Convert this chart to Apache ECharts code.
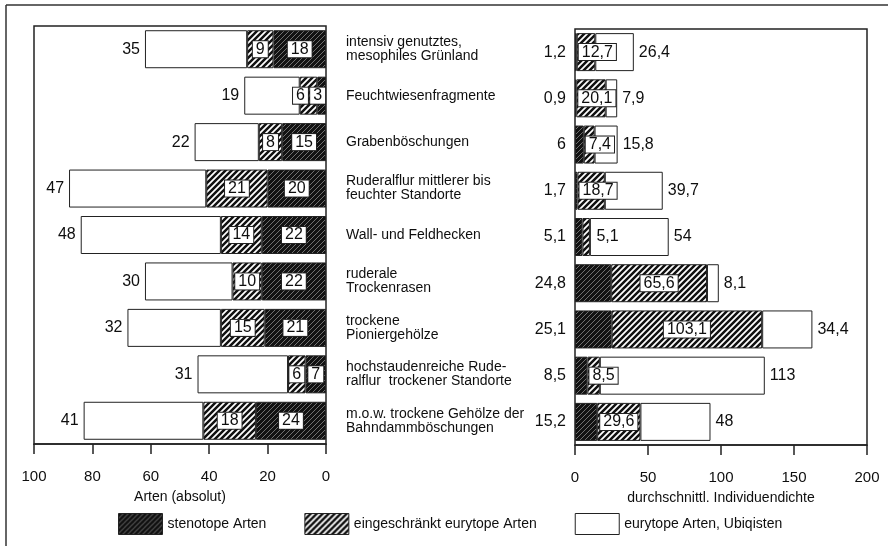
<!DOCTYPE html>
<html>
<head>
<meta charset="utf-8">
<script src="https://cdn.jsdelivr.net/npm/echarts@6/dist/echarts.min.js"></script>
<style>
  html, body { margin: 0; padding: 0; background: #fff; }
  #chart { width: 888px; height: 546px; }
</style>
</head>
<body>
<div id="chart"></div>
<script>
// Habitat types (top to bottom)
const categories = [
  'intensiv genutztes,\nmesophiles Grünland',
  'Feuchtwiesenfragmente',
  'Grabenböschungen',
  'Ruderalflur mittlerer bis\nfeuchter Standorte',
  'Wall- und Feldhecken',
  'ruderale\nTrockenrasen',
  'trockene\nPioniergehölze',
  'hochstaudenreiche Rude-\nralflur  trockener Standorte',
  'm.o.w. trockene Gehölze der\nBahndammböschungen'
];

const groupNames = ['stenotope Arten', 'eingeschränkt eurytope Arten', 'eurytope Arten, Ubiqisten'];

// Species counts (absolute)
const countSteno = [18, 3, 15, 20, 22, 22, 21, 7, 24];
const countEing  = [9, 6, 8, 21, 14, 10, 15, 6, 18];
const countEury  = [35, 19, 22, 47, 48, 30, 32, 31, 41];

// Mean individual density
const densSteno = [1.2, 0.9, 6, 1.7, 5.1, 24.8, 25.1, 8.5, 15.2];
const densEing  = [12.7, 20.1, 7.4, 18.7, 5.1, 65.6, 103.1, 8.5, 29.6];
const densEury  = [26.4, 7.9, 15.8, 39.7, 54, 8.1, 34.4, 113, 48];

// Axis ticks
const countTicks = { min: 0, max: 100, interval: 20 };
const densTicks  = { min: 0, max: 200, interval: 50 };

// ---- styling helpers ----
const FONT = '"Liberation Sans", Arial, Helvetica, sans-serif';
const INK = '#0e0e0e';

function hatch(bg, fg, lw, period) {
  const c = document.createElement('canvas');
  c.width = c.height = period;
  const g = c.getContext('2d');
  g.fillStyle = bg;
  g.fillRect(0, 0, period, period);
  g.strokeStyle = fg;
  g.lineWidth = lw;
  g.beginPath();
  g.moveTo(-1, 1); g.lineTo(1, -1);
  g.moveTo(0, period); g.lineTo(period, 0);
  g.moveTo(period - 1, period + 1); g.lineTo(period + 1, period - 1);
  g.stroke();
  return { image: c, repeat: 'repeat' };
}

const darkFill  = hatch('#121212', 'rgba(255,255,255,0.5)', 0.8, 5);
const stripFill = hatch('#ffffff', '#111111', 2.5, 6);
const plainFill = '#ffffff';

const fmt = v => String(v).replace('.', ',');

const measureCtx = document.createElement('canvas').getContext('2d');
measureCtx.font = '16px ' + FONT;
const textW = s => measureCtx.measureText(s).width;

const boxed = {
  backgroundColor: '#fff', borderColor: '#222', borderWidth: 1,
  padding: [1, 3, 0, 3], lineHeight: 15
};
const labelFont = { fontFamily: FONT, fontSize: 16, color: INK };

// grid geometry (pixels)
const GRID_L = { left: 34, right: 562, top: 26, bottom: 102 };
const GRID_R = { left: 575, right: 21, top: 29, bottom: 101 };
const densPx = (888 - GRID_R.left - GRID_R.right) / densTicks.max;

// small nudges where two boxed labels share a narrow bar
const leftNudge = { 1: { steno: [-4, 0], eing: [-8, 0] } };
// density label drawn without a box
const plainDensRows = new Set([4]);

const barBase = { type: 'bar', barWidth: 38, emphasis: { disabled: true } };
const outline = { borderColor: '#222', borderWidth: 1 };

const series = [
  // species counts (left panel)
  Object.assign({}, barBase, {
    name: groupNames[0], stack: 'count', xAxisIndex: 0, yAxisIndex: 0,
    itemStyle: Object.assign({ color: darkFill }, outline),
    label: Object.assign({ show: true, position: 'inside', formatter: p => fmt(p.value) }, labelFont, boxed),
    data: countSteno.map((v, i) => leftNudge[i] ? { value: v, label: { offset: leftNudge[i].steno } } : v)
  }),
  Object.assign({}, barBase, {
    name: groupNames[1], stack: 'count', xAxisIndex: 0, yAxisIndex: 0,
    itemStyle: Object.assign({ color: stripFill }, outline),
    label: Object.assign({ show: true, position: 'inside', formatter: p => fmt(p.value) }, labelFont, boxed),
    data: countEing.map((v, i) => leftNudge[i] ? { value: v, label: { offset: leftNudge[i].eing } } : v)
  }),
  Object.assign({}, barBase, {
    name: groupNames[2], stack: 'count', xAxisIndex: 0, yAxisIndex: 0,
    itemStyle: Object.assign({ color: plainFill }, outline),
    label: Object.assign({ show: true, position: 'left', distance: 5, formatter: p => fmt(p.value) }, labelFont),
    data: countEury
  }),
  // mean density (right panel)
  Object.assign({}, barBase, {
    name: groupNames[0], stack: 'dens', xAxisIndex: 1, yAxisIndex: 1,
    itemStyle: Object.assign({ color: darkFill }, outline),
    label: Object.assign({ show: true, position: 'left', distance: 9, formatter: p => fmt(p.value) }, labelFont),
    data: densSteno
  }),
  Object.assign({}, barBase, {
    name: groupNames[1], stack: 'dens', xAxisIndex: 1, yAxisIndex: 1,
    itemStyle: Object.assign({ color: stripFill }, outline),
    label: Object.assign({ show: true, position: 'inside', formatter: p => fmt(p.value) }, labelFont, boxed),
    data: densEing.map((v, i) => {
      if (plainDensRows.has(i)) {
        return { value: v, label: { position: 'insideLeft', distance: 11, backgroundColor: 'transparent', borderWidth: 0 } };
      }
      const need = textW(fmt(v)) + 8;
      if (v * densPx < need) return { value: v, label: { position: 'insideLeft', distance: 2 } };
      return v;
    })
  }),
  Object.assign({}, barBase, {
    name: groupNames[2], stack: 'dens', xAxisIndex: 1, yAxisIndex: 1,
    itemStyle: Object.assign({ color: plainFill }, outline),
    label: Object.assign({ show: true, position: 'right', distance: 5, formatter: p => fmt(p.value) }, labelFont),
    data: densEury
  })
];

const axisLine = { show: true, lineStyle: { color: '#222', width: 1.5 } };
const axisTick = { show: true, inside: false, length: 10, lineStyle: { color: '#222', width: 1.5 } };
const tickLabel = { fontFamily: FONT, fontSize: 15, color: INK, margin: 25 };
const axisName = { fontFamily: FONT, fontSize: 14, color: INK };

const option = {
  animation: false,
  backgroundColor: '#fff',
  textStyle: { fontFamily: FONT },
  grid: [
    Object.assign({ show: true, borderColor: '#222', borderWidth: 1.5, backgroundColor: 'transparent' }, GRID_L),
    Object.assign({ show: true, borderColor: '#222', borderWidth: 1.5, backgroundColor: 'transparent' }, GRID_R)
  ],
  xAxis: [
    Object.assign({
      gridIndex: 0, type: 'value', inverse: true, position: 'bottom',
      axisLine, axisTick, axisLabel: tickLabel, splitLine: { show: false },
      name: 'Arten (absolut)', nameLocation: 'middle', nameGap: 46, nameTextStyle: axisName
    }, countTicks),
    Object.assign({
      gridIndex: 1, type: 'value', position: 'bottom',
      axisLine, axisTick, axisLabel: tickLabel, splitLine: { show: false },
      name: 'durchschnittl. Individuendichte', nameLocation: 'middle', nameGap: 46, nameTextStyle: axisName
    }, densTicks)
  ],
  yAxis: [
    {
      gridIndex: 0, type: 'category', inverse: true, position: 'right', data: categories,
      axisLine: { show: false }, axisTick: { show: false },
      axisLabel: { align: 'left', margin: 20, fontFamily: FONT, fontSize: 14, lineHeight: 14, color: INK }
    },
    {
      gridIndex: 1, type: 'category', inverse: true, data: categories,
      axisLine: { show: false }, axisTick: { show: false }, axisLabel: { show: false }
    }
  ],
  legend: {
    data: groupNames, left: 118, top: 513, padding: 0, icon: 'rect',
    itemWidth: 44, itemHeight: 21, itemGap: 38, selectedMode: false,
    itemStyle: { borderColor: '#222', borderWidth: 1 },
    textStyle: { fontFamily: FONT, fontSize: 14, color: INK }
  },
  graphic: [
    { type: 'line', shape: { x1: 6, y1: 5, x2: 888, y2: 5 }, style: { stroke: '#333', lineWidth: 1.5 } },
    { type: 'line', shape: { x1: 6, y1: 5, x2: 6, y2: 546 }, style: { stroke: '#333', lineWidth: 1.5 } }
  ],
  series
};

const chart = echarts.init(document.getElementById('chart'), null, { renderer: 'canvas' });
chart.setOption(option);
</script>
</body>
</html>
